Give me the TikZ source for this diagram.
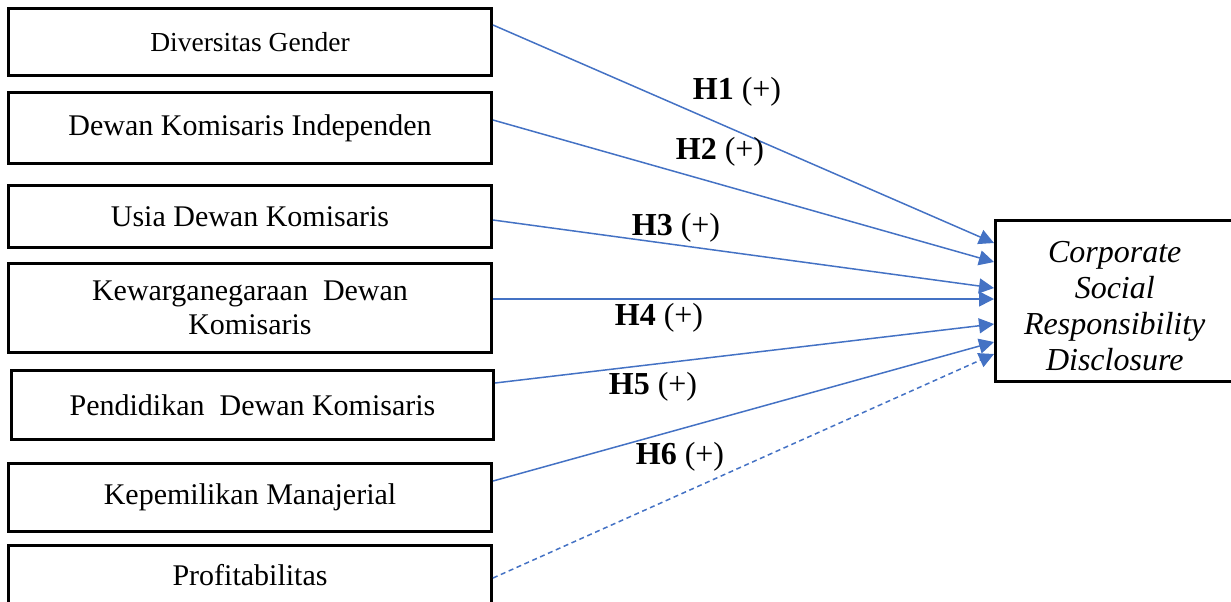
\documentclass[tikz,border=0pt]{standalone}
\usepackage{fontspec}
\setmainfont{Liberation Serif}
\usepackage{tikz}
\usetikzlibrary{arrows.meta,positioning}
\definecolor{lineblue}{HTML}{4472C4}

\begin{document}
\begin{tikzpicture}[
    x=0.5pt, y=-0.5pt,
    factor/.style={rectangle, draw, line width=1.5pt, minimum width=241.5pt, inner sep=0pt, align=center, font=\fontsize{15}{17}\selectfont},
    target/.style={rectangle, draw, line width=1.5pt, minimum width=119.25pt, minimum height=80.5pt, align=center, font=\fontsize{16}{18}\selectfont\itshape},
    arrow/.style={-{Triangle[length=7.5pt, width=7.5pt]}, draw=lineblue, line width=0.75pt},
    hyp/.style={inner sep=0pt, font=\fontsize{16}{18}\selectfont}
]
    \useasboundingbox (0,0) rectangle (1231,601);

    % independent variables
    \node[factor, minimum height=33.5pt, font=\fontsize{13.75}{16}\selectfont] (gender) at (250,42) {Diversitas Gender};
    \node[factor, minimum height=35.5pt] (independen) at (250,128) {Dewan Komisaris Independen};
    \node[factor, minimum height=31pt] (usia) at (250,216.5) {Usia Dewan Komisaris};
    \node[factor, minimum height=44.5pt] (kewarganegaraan) at (250,308) {Kewarganegaraan\ \ Dewan\\Komisaris};
    \node[factor, minimum width=241pt, minimum height=34.5pt] (pendidikan) at (252.5,405) {Pendidikan\ \ Dewan Komisaris};
    \node[factor, minimum height=34pt] (kepemilikan) at (250,497.5) {Kepemilikan Manajerial};
    \node[factor, minimum height=30pt] (profitabilitas) at (250,575.5) {Profitabilitas};

    % dependent variable
    \node[target, text height=70pt] (csr) at (1114.75,301) {Corporate\\Social\\Responsibility\\Disclosure};

    \draw[arrow] ([yshift=8.5pt]gender.east) -- ([yshift=29pt]csr.west);
    \draw[arrow] ([yshift=4pt]independen.east) -- ([yshift=19.5pt]csr.west);
    \draw[arrow] ([yshift=-1.75pt]usia.east) -- ([yshift=6.5pt]csr.west);
    \draw[arrow] ([yshift=4.5pt]kewarganegaraan.east) -- ([yshift=1pt]csr.west);
    \draw[arrow] ([yshift=11pt]pendidikan.east) -- ([yshift=-11.5pt]csr.west);
    \draw[arrow] ([yshift=8.25pt]kepemilikan.east) -- ([yshift=-20.5pt]csr.west);
    \draw[arrow, dash pattern=on 2.5pt off 1.8pt] ([yshift=-1.25pt]profitabilitas.east) -- ([yshift=-26.5pt]csr.west);

    % hypothesis labels
    \node[hyp] (h1) at (737,92) {\textbf{H1} (+)};
    \node[hyp] (h2) at (720,152) {\textbf{H2} (+)};
    \node[hyp] (h3) at (676,228) {\textbf{H3} (+)};
    \node[hyp] (h4) at (659,318) {\textbf{H4} (+)};
    \node[hyp] (h5) at (653,387) {\textbf{H5} (+)};
    \node[hyp] (h6) at (680,457) {\textbf{H6} (+)};
\end{tikzpicture}
\end{document}
